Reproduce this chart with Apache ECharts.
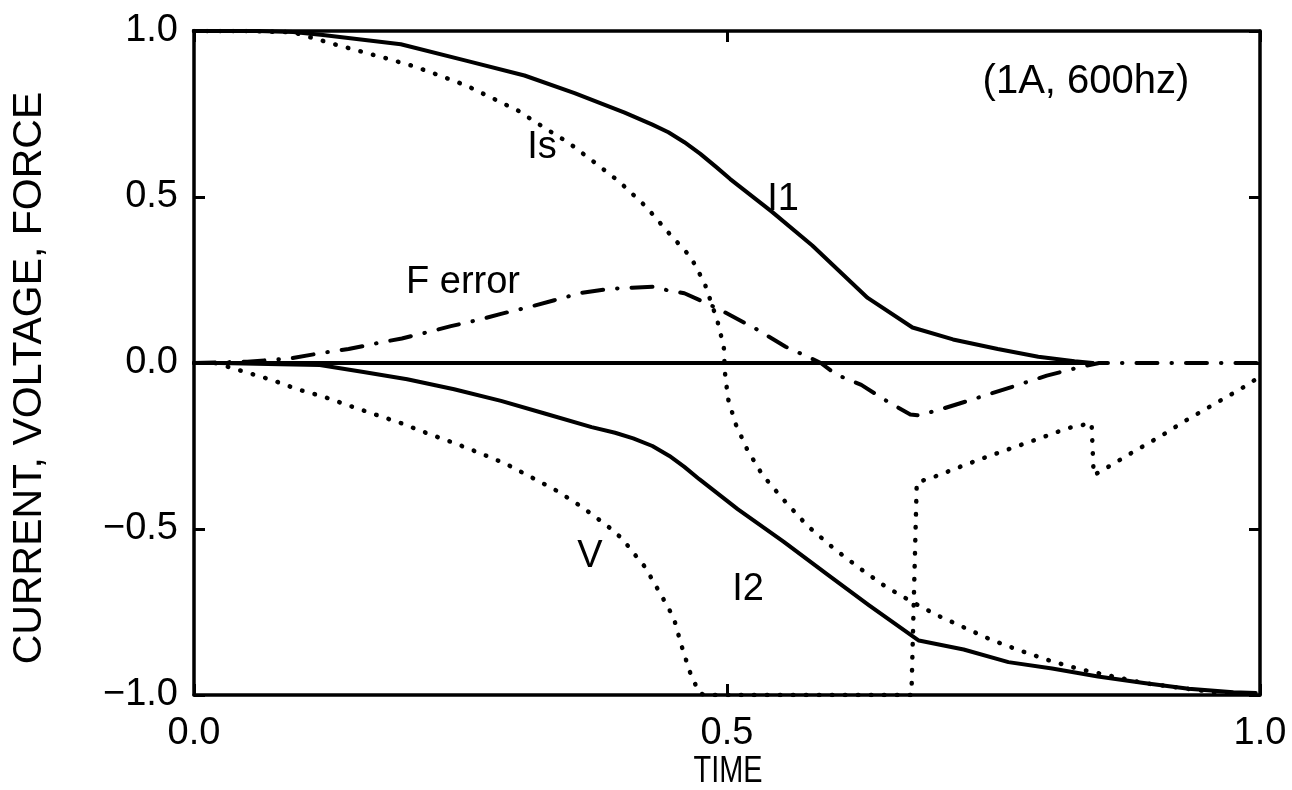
<!DOCTYPE html>
<html><head><meta charset="utf-8">
<script src="https://cdn.jsdelivr.net/npm/echarts@6/dist/echarts.min.js"></script>
<style>html,body{margin:0;padding:0;background:#fff}#c{width:1292px;height:790px}</style>
</head><body><div id="c"></div>
<script>
// ---- data (time, value) ----
const xTickValues = [0, 0.5, 1.0];
const yTickValues = [-1.0, -0.5, 0.0, 0.5, 1.0];

const seriesI1 = [[0,1.0],[0.06,1.0],[0.093,0.997],[0.121,0.988],[0.194,0.96],[0.256,0.91],[0.31,0.866],[0.357,0.813],[0.404,0.754],[0.43,0.718],[0.445,0.695],[0.46,0.665],[0.475,0.63],[0.49,0.59],[0.503,0.554],[0.542,0.456],[0.58,0.354],[0.632,0.196],[0.674,0.107],[0.712,0.071],[0.754,0.042],[0.792,0.019],[0.826,0.005],[0.843,0]];

const seriesIs = [[0,1.0],[0.05,1.0],[0.093,0.996],[0.134,0.958],[0.157,0.938],[0.181,0.917],[0.206,0.894],[0.232,0.864],[0.256,0.835],[0.279,0.799],[0.304,0.76],[0.328,0.71],[0.352,0.662],[0.375,0.606],[0.399,0.546],[0.424,0.471],[0.445,0.393],[0.466,0.319],[0.479,0.24],[0.491,0.127],[0.497,0.048],[0.498,-0.027],[0.501,-0.108],[0.508,-0.183],[0.519,-0.261],[0.533,-0.336],[0.552,-0.408],[0.575,-0.489],[0.6,-0.558],[0.624,-0.617],[0.649,-0.674],[0.675,-0.722],[0.696,-0.758],[0.722,-0.796],[0.748,-0.834],[0.773,-0.864],[0.806,-0.9],[0.832,-0.923],[0.861,-0.943],[0.891,-0.964],[0.924,-0.978],[0.958,-0.992],[0.996,-0.998]];

const seriesI2 = [[0,0],[0.024,0],[0.081,-0.004],[0.118,-0.006],[0.159,-0.027],[0.2,-0.049],[0.244,-0.079],[0.288,-0.114],[0.329,-0.152],[0.373,-0.193],[0.395,-0.21],[0.412,-0.227],[0.43,-0.25],[0.446,-0.28],[0.46,-0.313],[0.474,-0.35],[0.51,-0.44],[0.553,-0.538],[0.595,-0.639],[0.633,-0.729],[0.672,-0.818],[0.68,-0.836],[0.722,-0.863],[0.764,-0.901],[0.805,-0.92],[0.848,-0.944],[0.891,-0.964],[0.933,-0.981],[0.975,-0.992],[0.996,-0.994]];

const seriesV = [[0.02,0],[0.05,-0.029],[0.074,-0.052],[0.097,-0.079],[0.122,-0.102],[0.146,-0.129],[0.17,-0.155],[0.195,-0.182],[0.219,-0.212],[0.244,-0.241],[0.268,-0.271],[0.292,-0.303],[0.317,-0.345],[0.341,-0.386],[0.364,-0.434],[0.388,-0.491],[0.402,-0.53],[0.412,-0.571],[0.423,-0.614],[0.437,-0.692],[0.45,-0.767],[0.457,-0.848],[0.465,-0.929],[0.474,-0.995],[0.48,-1.0],[0.673,-1.0],[0.678,-0.36],[0.695,-0.342],[0.72,-0.311],[0.746,-0.28],[0.771,-0.252],[0.795,-0.225],[0.82,-0.196],[0.842,-0.181],[0.844,-0.338],[0.857,-0.314],[0.881,-0.268],[0.906,-0.222],[0.932,-0.17],[0.957,-0.124],[0.983,-0.076],[0.998,-0.045]];

const seriesFerror = [[0,0],[0.05,0.004],[0.091,0.014],[0.119,0.03],[0.145,0.042],[0.169,0.058],[0.195,0.074],[0.218,0.092],[0.241,0.111],[0.267,0.13],[0.288,0.148],[0.316,0.17],[0.338,0.189],[0.363,0.211],[0.389,0.223],[0.411,0.227],[0.433,0.23],[0.445,0.218],[0.46,0.21],[0.483,0.177],[0.496,0.156],[0.527,0.103],[0.555,0.049],[0.575,0.02],[0.588,0],[0.602,-0.034],[0.626,-0.066],[0.651,-0.117],[0.672,-0.155],[0.68,-0.158],[0.7,-0.14],[0.734,-0.106],[0.776,-0.063],[0.8,-0.038],[0.834,-0.01],[0.849,0],[1.0,0]];

const seriesZero = [[0,0],[0.843,0]];

// ---- chart ----
const chart = echarts.init(document.getElementById('c'), null, {renderer:'canvas'});
const FONT = "'Liberation Sans', Arial, sans-serif";
const fmt = v => (v < 0 ? '\u2212' : '') + Math.abs(v).toFixed(1);
const axisCommon = {
  type:'value', splitLine:{show:false},
  axisLine:{show:true, onZero:false, lineStyle:{color:'#000', width:3.5}},
  axisTick:{show:true, inside:true, length:11, lineStyle:{color:'#000', width:3}}
};
const solid = {color:'#000', width:4, cap:'round', join:'round'};
const dotted = {color:'#000', width:4.5, type:[0.5,12.5], cap:'round', join:'round'};
const dashdot = {color:'#000', width:4, type:[21,14,0.5,14], cap:'round', join:'round'};
const mk = (name, data, ls) => ({name, type:'line', data, showSymbol:false, symbol:'none', lineStyle:ls, silent:true, z:3});

chart.setOption({
  animation:false,
  backgroundColor:'#fff',
  grid:{left:194, right:32, top:31, bottom:95},
  xAxis:[
    Object.assign({}, axisCommon, {min:xTickValues[0], max:xTickValues[2], interval:xTickValues[1]-xTickValues[0], position:'bottom',
      axisLabel:{fontSize:38, color:'#000', fontFamily:FONT, margin:20, formatter:fmt}}),
    Object.assign({}, axisCommon, {min:xTickValues[0], max:xTickValues[2], interval:xTickValues[1]-xTickValues[0], position:'top',
      axisLabel:{show:false}})
  ],
  yAxis:[
    Object.assign({}, axisCommon, {min:yTickValues[0], max:yTickValues[4], interval:0.5, position:'left',
      axisLabel:{fontSize:38, color:'#000', fontFamily:FONT, margin:16, formatter:fmt}}),
    Object.assign({}, axisCommon, {min:yTickValues[0], max:yTickValues[4], interval:0.5, position:'right',
      axisLabel:{show:false}})
  ],
  series:[
    mk('zero', seriesZero, solid),
    mk('I1', seriesI1, solid),
    mk('I2', seriesI2, solid),
    mk('Is', seriesIs, dotted),
    mk('V', seriesV, dotted),
    mk('F error', seriesFerror, dashdot)
  ],
  graphic:[
    {type:'text', x:542, y:148, style:{text:'Is', font:"38px "+FONT, fill:'#000', textAlign:'center', textVerticalAlign:'middle'}},
    {type:'text', x:783, y:200, style:{text:'I1', font:"38px "+FONT, fill:'#000', textAlign:'center', textVerticalAlign:'middle'}},
    {type:'text', x:463, y:283, style:{text:'F error', font:"38px "+FONT, fill:'#000', textAlign:'center', textVerticalAlign:'middle'}},
    {type:'text', x:590, y:557, style:{text:'V', font:"38px "+FONT, fill:'#000', textAlign:'center', textVerticalAlign:'middle'}},
    {type:'text', x:748, y:590, style:{text:'I2', font:"38px "+FONT, fill:'#000', textAlign:'center', textVerticalAlign:'middle'}},
    {type:'text', x:1086, y:82, style:{text:'(1A, 600hz)', font:"40px "+FONT, fill:'#000', textAlign:'center', textVerticalAlign:'middle'}},
    {type:'text', x:30, y:378, rotation:Math.PI/2, style:{text:'CURRENT, VOLTAGE, FORCE', font:"41px "+FONT, fill:'#000', textAlign:'center', textVerticalAlign:'middle'}},
    {type:'text', x:728, y:772, scaleX:0.78, style:{text:'TIME', font:"37px "+FONT, fill:'#000', textAlign:'center', textVerticalAlign:'middle'}}
  ]
});
</script></body></html>
